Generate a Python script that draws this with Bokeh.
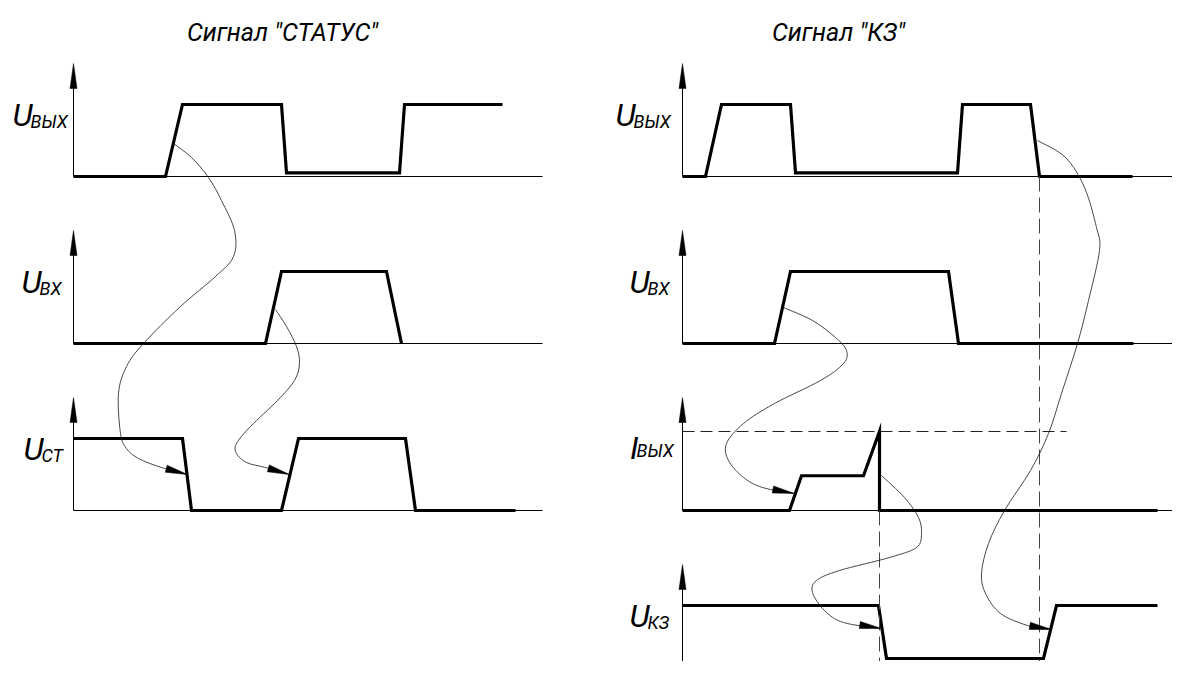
from bokeh.plotting import figure
from bokeh.models import Range1d
from bokeh.embed import file_html
from bokeh.resources import INLINE
from bokeh.core.properties import value

# ---------------- data ----------------
# Left diagram: Сигнал "СТАТУС"  (time, normalised level)
st_uout_t = [73, 165, 182, 281, 286, 399, 404, 502]
st_uout_v = [0, 0, 1, 1, 0.05, 0.05, 1, 1]
st_uin_t = [73, 265, 281, 386, 401]
st_uin_v = [0, 0, 1, 1, 0]
st_ust_t = [73, 182, 191, 281, 298, 405, 415, 515]
st_ust_v = [1, 1, 0, 0, 1, 1, 0, 0]

# Right diagram: Сигнал "КЗ"
kz_uout_t = [682, 705, 721, 790, 795, 957, 962, 1030, 1039, 1132]
kz_uout_v = [0, 0, 1, 1, 0.05, 0.05, 1, 1, 0, 0]
kz_uin_t = [682, 774, 790, 948, 958, 1133]
kz_uin_v = [0, 0, 1, 1, 0, 0]
kz_iout_t = [682, 789, 801, 863, 879, 879, 1157]
kz_iout_v = [0, 0, 0.44, 0.44, 1, 0, 0]
kz_ukz_t = [682, 878, 886, 1043, 1056, 1157]
kz_ukz_v = [1, 1, 0, 0, 1, 1]

titles = ['Сигнал "СТАТУС"', 'Сигнал "КЗ"']
left_main = ["U", "U", "U"]
left_sub = ["ВЫХ", "ВХ", "СТ"]
right_main = ["U", "U", "I", "U"]
right_sub = ["ВЫХ", "ВХ", "ВЫХ", "КЗ"]

# cause -> effect curves (path points)
curveA_x = [173, 191, 208, 221, 234, 233, 215, 180, 143, 126, 118, 120, 126, 138, 161, 187]
curveA_y = [143, 157, 177, 200, 230, 256, 276, 306, 343, 366, 393, 433, 448, 458, 467, 474]
curveB_x = [275, 286, 296, 299, 294, 277, 250, 236, 236, 246, 265, 289]
curveB_y = [309, 326, 346, 363, 380, 400, 426, 443, 453, 462, 467, 474]
curveC_x = [783, 812, 835, 846, 843, 820, 774, 743, 726, 728, 743, 762, 794]
curveC_y = [307, 320, 337, 350, 363, 380, 403, 423, 443, 460, 477, 487, 493]
curveD_x = [1037, 1065, 1084, 1096, 1099, 1088, 1077, 1061, 1048, 1030, 1004, 988, 981, 985, 1000, 1027, 1051]
curveD_y = [140, 157, 187, 227, 250, 300, 343, 393, 433, 470, 510, 543, 573, 593, 613, 625, 629]
curveE_x = [881, 904, 918, 921, 916, 889, 839, 816, 812, 824, 843, 881]
curveE_y = [475, 497, 517, 533, 547, 557, 570, 580, 592, 610, 622, 628]

# ---------------- layout ----------------
LEFT_AX = 73
RIGHT_AX = 682
BASES = [176, 343, 510]
AMP = 72
IOUT_AMP = 79
UKZ_BASE, UKZ_AMP = 658, 53
BOTTOM = 661
THICK = 3.2
FONT = value("Roboto")

p = figure(width=1172, height=661, x_range=Range1d(0, 1172), y_range=Range1d(661, 0),
           toolbar_location=None, output_backend="svg", min_border=0,
           x_axis_location=None, y_axis_location=None)
p.grid.visible = False
p.outline_line_color = None
p.background_fill_color = "white"


def wave(ts, vs, base, amp):
    p.line(ts, [base - v * amp for v in vs], line_color="black", line_width=THICK,
           line_join="miter", line_cap="butt")


def axis_arrow(x, ytop, ybottom):
    p.segment(x0=[x], y0=[ytop + 10], x1=[x], y1=[ybottom], line_color="black", line_width=1)
    p.patch([x, x - 3.5, x + 3.5], [ytop, ytop + 25, ytop + 25], fill_color="black", line_color="black",
            line_width=0.5)


def curve(xs, ys):
    n = len(xs)
    P = list(zip(xs, ys))
    x0 = []; y0 = []; x1 = []; y1 = []; c0x = []; c0y = []; c1x = []; c1y = []
    for i in range(n - 1):
        a = P[i - 1] if i > 0 else P[i]
        b = P[i]
        c = P[i + 1]
        d = P[i + 2] if i + 2 < n else P[i + 1]
        x0.append(b[0]); y0.append(b[1]); x1.append(c[0]); y1.append(c[1])
        c0x.append(b[0] + (c[0] - a[0]) / 6); c0y.append(b[1] + (c[1] - a[1]) / 6)
        c1x.append(c[0] - (d[0] - b[0]) / 6); c1y.append(c[1] - (d[1] - b[1]) / 6)
    p.bezier(x0=x0, y0=y0, x1=x1, y1=y1, cx0=c0x, cy0=c0y, cx1=c1x, cy1=c1y,
             line_color="#1a1a1a", line_width=0.8)
    # arrow head at the end
    tx, ty = P[-1]
    px, py = P[-2]
    dx, dy = tx - px, ty - py
    L = (dx * dx + dy * dy) ** 0.5
    ux, uy = dx / L, dy / L
    nx, ny = -uy, ux
    hl, hw = 22, 3.6
    bx, by = tx - ux * hl, ty - uy * hl
    p.patch([tx, bx + nx * hw, bx - nx * hw], [ty, by + ny * hw, by - ny * hw],
            fill_color="black", line_color="black", line_width=0.5)


# titles
p.text(x=[282, 838], y=[32, 32], text=titles, text_font=FONT, text_font_style="italic",
       text_font_size="25px", text_align="center", text_baseline="alphabetic", text_color="black")

# ---- left diagram ----
for b in BASES:
    p.segment(x0=[LEFT_AX], y0=[b], x1=[542], y1=[b], line_color="black", line_width=1)
    axis_arrow(LEFT_AX, b - 113, b)
wave(st_uout_t, st_uout_v, BASES[0], AMP)
wave(st_uin_t, st_uin_v, BASES[1], AMP)
wave(st_ust_t, st_ust_v, BASES[2], AMP)

# ---- right diagram ----
for b in BASES:
    p.segment(x0=[RIGHT_AX], y0=[b], x1=[1190], y1=[b], line_color="black", line_width=1)
    axis_arrow(RIGHT_AX, b - 113, b)
axis_arrow(RIGHT_AX, 677 - 113, BOTTOM + 5)
wave(kz_uout_t, kz_uout_v, BASES[0], AMP)
wave(kz_uin_t, kz_uin_v, BASES[1], AMP)
wave(kz_iout_t, kz_iout_v, BASES[2], IOUT_AMP)
wave(kz_ukz_t, kz_ukz_v, UKZ_BASE, UKZ_AMP)

# dashed guide lines
ipk = BASES[2] - IOUT_AMP
p.segment(x0=[RIGHT_AX], y0=[ipk], x1=[1066], y1=[ipk], line_color="#222222", line_width=1,
          line_dash="12 6")
p.segment(x0=[kz_iout_t[4], kz_uout_t[8]], y0=[BASES[2], BASES[0]],
          x1=[kz_iout_t[4], kz_uout_t[8]], y1=[BOTTOM + 5, BOTTOM + 5],
          line_color="#444444", line_width=1, line_dash="15 6")

# labels
lx_sub = [30, 39, 41]
l_hi = [b - AMP for b in BASES]
p.text(x=[x + 2 for x in lx_sub], y=[h + 10 for h in l_hi], text=left_main, text_font=FONT,
       text_font_style="italic", text_font_size="32px", text_align="right", text_baseline="alphabetic")
p.text(x=lx_sub, y=[h + 17 for h in l_hi], text=left_sub, text_font=FONT,
       text_font_style="italic", text_font_size="18px", text_align="left", text_baseline="alphabetic")

rx_sub = [633, 647, 636, 647]
r_hi = [BASES[0] - AMP, BASES[1] - AMP, ipk, 605]
r_main_y = [r_hi[0] + 10, r_hi[1] + 10, ipk + 16, r_hi[3] + 10]
r_sub_y = [r_hi[0] + 17, r_hi[1] + 17, ipk + 19, r_hi[3] + 17]
p.text(x=[x + 2 for x in rx_sub], y=r_main_y, text=right_main, text_font=FONT,
       text_font_style="italic", text_font_size="32px", text_align="right", text_baseline="alphabetic")
p.text(x=rx_sub, y=r_sub_y, text=right_sub, text_font=FONT,
       text_font_style="italic", text_font_size="18px", text_align="left", text_baseline="alphabetic")

# curves
curve(curveA_x, curveA_y)
curve(curveB_x, curveB_y)
curve(curveC_x, curveC_y)
curve(curveD_x, curveD_y)
curve(curveE_x, curveE_y)

open("out.html", "w").write(file_html(p, INLINE))
